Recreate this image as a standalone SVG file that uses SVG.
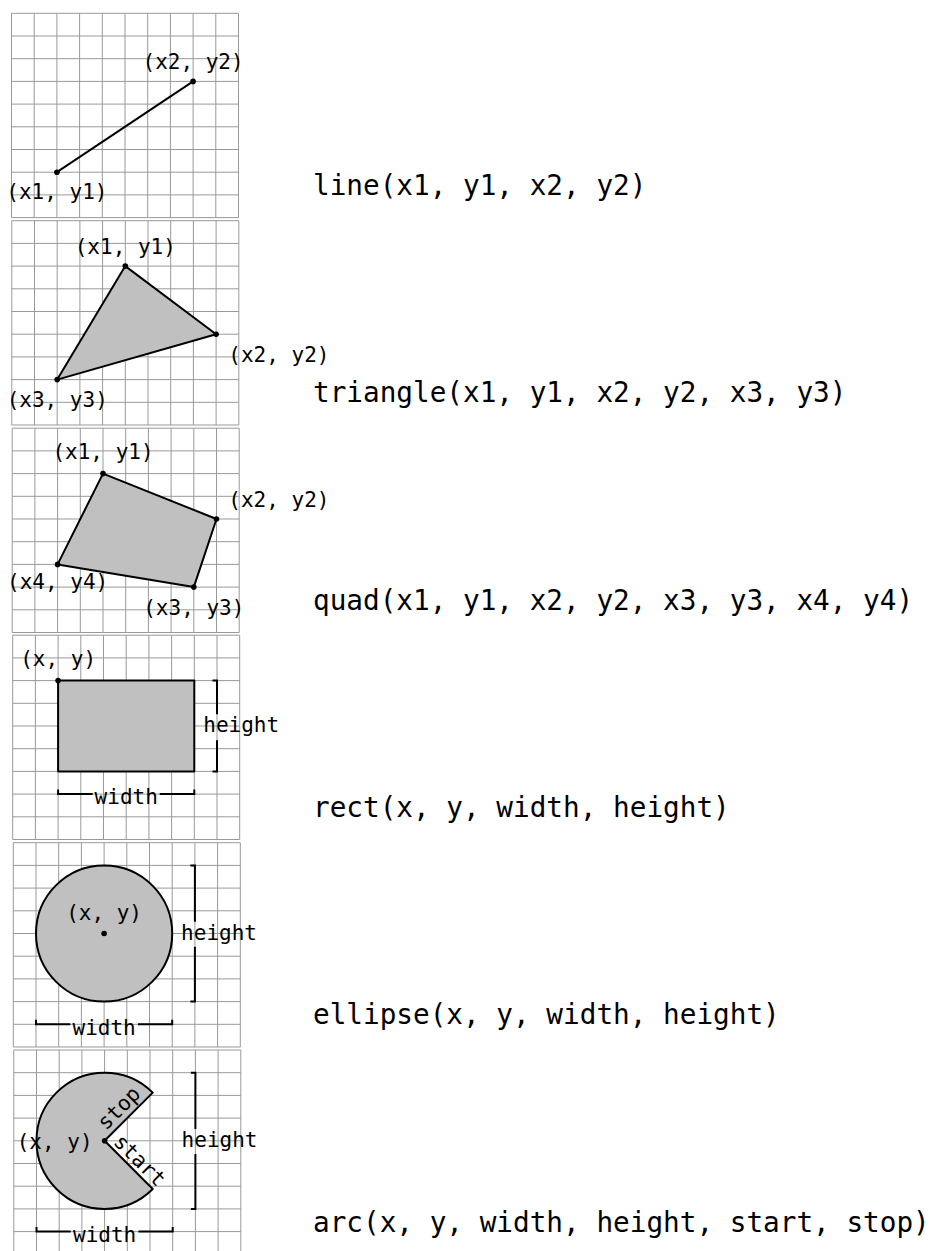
<svg xmlns="http://www.w3.org/2000/svg" xmlns:xlink="http://www.w3.org/1999/xlink" width="936" height="1251" viewBox="0 0 936 1251">
<style>
.lbl{font-family:"DejaVu Sans Mono",monospace;font-size:21px;fill:#000}
.big{font-family:"DejaVu Sans Mono",monospace;font-size:27.7px;fill:#000}
.shape{fill:#c0c0c0;stroke:#000;stroke-width:2;stroke-linejoin:round}
.edge{fill:none;stroke:#000;stroke-width:2}
.br{fill:none;stroke:#000;stroke-width:2}
.pt{fill:#000}
.mid{text-anchor:middle}
</style>
<defs>
<path id="grid" fill="none" stroke="#999" stroke-width="1" d="M0 0V204.3M22.7 0V204.3M45.4 0V204.3M68.1 0V204.3M90.8 0V204.3M113.5 0V204.3M136.2 0V204.3M158.9 0V204.3M181.6 0V204.3M204.3 0V204.3M227 0V204.3M0 0H227M0 22.7H227M0 45.4H227M0 68.1H227M0 90.8H227M0 113.5H227M0 136.2H227M0 158.9H227M0 181.6H227M0 204.3H227"/>
</defs>
<rect width="936" height="1251" fill="#fff"/>

<g id="panel-line" transform="translate(11.5,13.3)">
<use href="#grid"/>
<line class="edge" x1="45.4" y1="158.9" x2="181.6" y2="68.1"/>
<circle class="pt" cx="45.4" cy="158.9" r="2.8"/>
<circle class="pt" cx="181.6" cy="68.1" r="2.8"/>
<text class="lbl mid" x="45.4" y="185.5">(x1, y1)</text>
<text class="lbl mid" x="181.6" y="55.7">(x2, y2)</text>
</g>
<text id="label-line" class="big" x="313" y="194.9">line(x1, y1, x2, y2)</text>

<g id="panel-triangle" transform="translate(11.8,220.7)">
<use href="#grid"/>
<polygon class="shape" points="113.5,45.4 204.3,113.5 45.4,158.9"/>
<circle class="pt" cx="113.5" cy="45.4" r="2.8"/>
<circle class="pt" cx="204.3" cy="113.5" r="2.8"/>
<circle class="pt" cx="45.4" cy="158.9" r="2.8"/>
<text class="lbl mid" x="113.5" y="33.1">(x1, y1)</text>
<text class="lbl" x="216.5" y="141.3">(x2, y2)</text>
<text class="lbl mid" x="45.4" y="186.5">(x3, y3)</text>
</g>
<text id="label-triangle" class="big" x="313" y="402.3">triangle(x1, y1, x2, y2, x3, y3)</text>

<g id="panel-quad" transform="translate(12.2,428.2)">
<use href="#grid"/>
<polygon class="shape" points="90.8,45.4 204.3,90.8 181.6,158.9 45.4,136.2"/>
<circle class="pt" cx="90.8" cy="45.4" r="2.8"/>
<circle class="pt" cx="204.3" cy="90.8" r="2.8"/>
<circle class="pt" cx="181.6" cy="158.9" r="2.8"/>
<circle class="pt" cx="45.4" cy="136.2" r="2.8"/>
<text class="lbl mid" x="90.8" y="31">(x1, y1)</text>
<text class="lbl" x="216.1" y="78.8">(x2, y2)</text>
<text class="lbl mid" x="181.6" y="187.1">(x3, y3)</text>
<text class="lbl mid" x="45.4" y="160.5">(x4, y4)</text>
</g>
<text id="label-quad" class="big" x="313" y="609.8">quad(x1, y1, x2, y2, x3, y3, x4, y4)</text>

<g id="panel-rect" transform="translate(12.7,635.2)">
<use href="#grid"/>
<rect class="shape" x="45.4" y="45.4" width="136.2" height="90.8"/>
<circle class="pt" cx="45.4" cy="45.4" r="2.8"/>
<text class="lbl mid" x="45.4" y="31.1">(x, y)</text>
<path class="br" d="M199.8 45.4H204.3V79M204.3 105V136.2H199.8"/>
<text class="lbl" x="190.6" y="97.1">height</text>
<path class="br" d="M45.4 154.4V158.9H80M147 158.9H181.6V154.4"/>
<text class="lbl mid" x="113.5" y="169.1">width</text>
</g>
<text id="label-rect" class="big" x="313" y="816.8">rect(x, y, width, height)</text>

<g id="panel-ellipse" transform="translate(13.3,842.7)">
<use href="#grid"/>
<circle class="shape" cx="90.8" cy="90.8" r="68.1"/>
<circle class="pt" cx="90.8" cy="90.8" r="2.8"/>
<text class="lbl mid" x="90.8" y="77.6">(x, y)</text>
<path class="br" d="M177.1 22.7H181.6V79M181.6 104V158.9H177.1"/>
<text class="lbl" x="167.8" y="97.3">height</text>
<path class="br" d="M22.7 177.1V181.6H57M124.6 181.6H158.9V177.1"/>
<text class="lbl mid" x="90.8" y="192.3">width</text>
</g>
<text id="label-ellipse" class="big" x="313" y="1024.3">ellipse(x, y, width, height)</text>

<g id="panel-arc" transform="translate(13.8,1050)">
<use href="#grid"/>
<path class="shape" d="M90.8 90.8L138.95 138.95A68.1 68.1 0 1 1 138.95 42.65Z"/>
<circle class="pt" cx="90.8" cy="90.8" r="2.8"/>
<text class="lbl" x="2.9" y="98.7">(x, y)</text>
<text class="lbl" transform="translate(90.8,90.8) rotate(45)" x="7" y="-4">start</text>
<text class="lbl" transform="translate(90.8,90.8) rotate(-45)" x="8" y="-6">stop</text>
<path class="br" d="M177.1 22.7H181.6V79M181.6 104V158.9H177.1"/>
<text class="lbl" x="167.8" y="97.3">height</text>
<path class="br" d="M22.7 177.1V181.6H57M124.6 181.6H158.9V177.1"/>
<text class="lbl mid" x="90.8" y="192.3">width</text>
</g>
<text id="label-arc" class="big" x="313" y="1231.6">arc(x, y, width, height, start, stop)</text>
</svg>
